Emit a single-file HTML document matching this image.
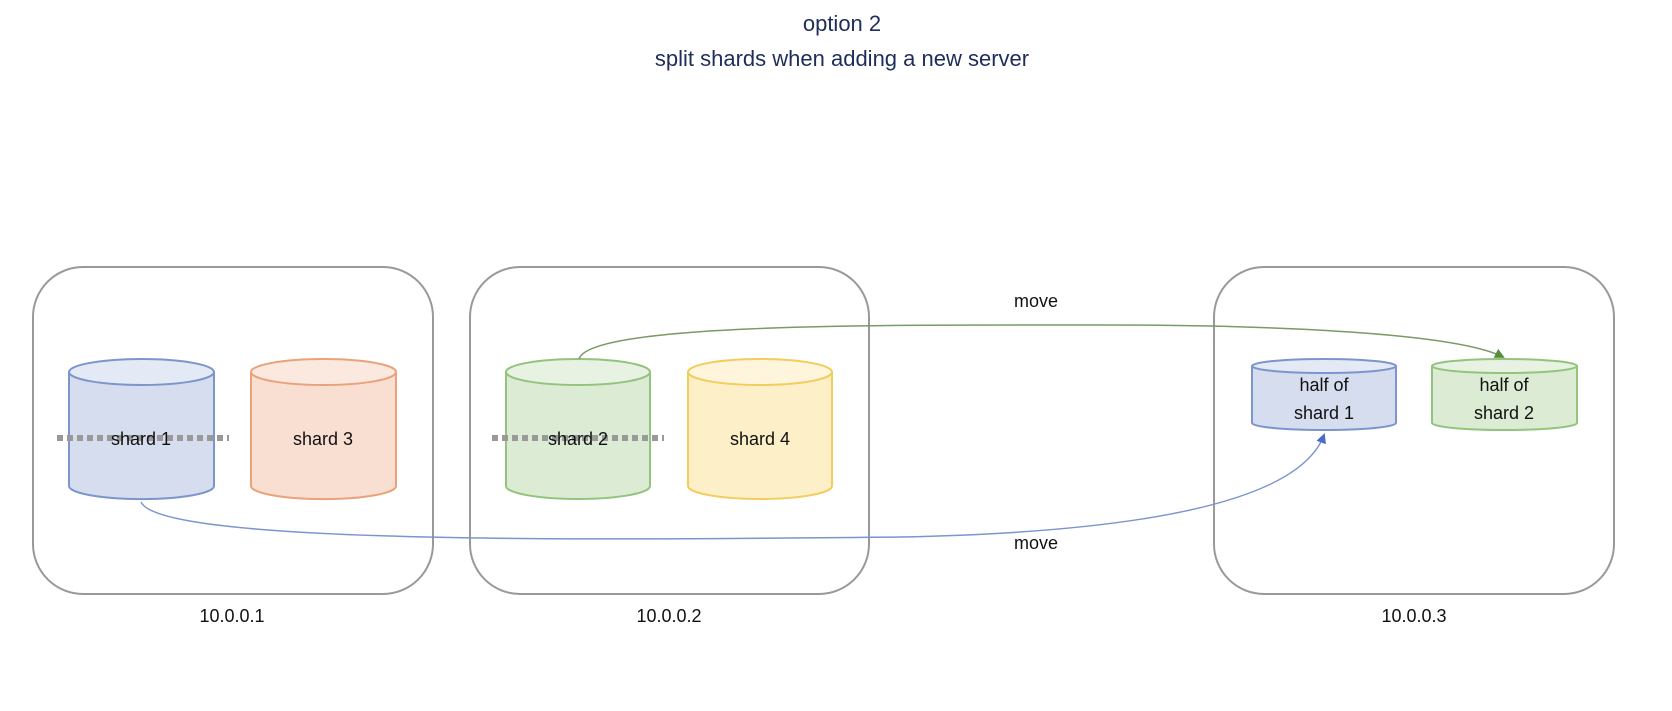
<!DOCTYPE html>
<html><head><style>
html,body{margin:0;padding:0;background:#fff;}
svg text{font-family:"Liberation Sans",sans-serif;}
</style></head><body>
<svg width="1672" height="706" viewBox="0 0 1672 706" xmlns="http://www.w3.org/2000/svg">
<defs>
<marker id="ag" markerWidth="10" markerHeight="10" refX="8" refY="5" orient="auto" markerUnits="userSpaceOnUse"><path d="M0,0 L10,5 L0,10 z" fill="#5a8a3c"/></marker>
<marker id="ab" markerWidth="10" markerHeight="10" refX="8" refY="5" orient="auto" markerUnits="userSpaceOnUse"><path d="M0,0 L10,5 L0,10 z" fill="#4a6cc4"/></marker>
</defs>
<text x="842" y="31" text-anchor="middle" font-size="22" fill="#1f2d5a">option 2</text>
<text x="842" y="66" text-anchor="middle" font-size="22" fill="#1f2d5a">split shards when adding a new server</text>

<g fill="none" stroke="#999" stroke-width="2">
<rect x="33" y="267" width="400" height="327" rx="50"/>
<rect x="470" y="267" width="399" height="327" rx="50"/>
<rect x="1214" y="267" width="400" height="327" rx="50"/>
</g>
<g font-size="18" fill="#111" text-anchor="middle">
<text x="232" y="622">10.0.0.1</text>
<text x="669" y="622">10.0.0.2</text>
<text x="1414" y="622">10.0.0.3</text>
</g>

<g stroke-width="2">
<path d="M69,372 L69,486 A72,13 0 0 0 214,486 L214,372" fill="#d5ddef" stroke="#7c95cc"/>
<ellipse cx="141.5" cy="372" rx="72.5" ry="13" fill="#e3e9f5" stroke="#7c95cc"/>
<path d="M251,372 L251,486 A72,13 0 0 0 396,486 L396,372" fill="#f8dfd2" stroke="#e9a27a"/>
<ellipse cx="323.5" cy="372" rx="72.5" ry="13" fill="#fbe9df" stroke="#e9a27a"/>
<path d="M506,372 L506,486 A72,13 0 0 0 650,486 L650,372" fill="#dcebd3" stroke="#93c47d"/>
<ellipse cx="578" cy="372" rx="72" ry="13" fill="#e8f2e2" stroke="#93c47d"/>
<path d="M688,372 L688,486 A72,13 0 0 0 832,486 L832,372" fill="#fdf0c8" stroke="#f2cc5c"/>
<ellipse cx="760" cy="372" rx="72" ry="13" fill="#fef5dc" stroke="#f2cc5c"/>
<path d="M1252,366 L1252,423 A72,7 0 0 0 1396,423 L1396,366" fill="#d5ddef" stroke="#7c95cc"/>
<ellipse cx="1324" cy="366" rx="72" ry="7" fill="#e3e9f5" stroke="#7c95cc"/>
<path d="M1432,366 L1432,423 A72,7 0 0 0 1577,423 L1577,366" fill="#dcebd3" stroke="#93c47d"/>
<ellipse cx="1504.5" cy="366" rx="72.5" ry="7" fill="#e8f2e2" stroke="#93c47d"/>
</g>

<g stroke="#999" stroke-width="6" stroke-dasharray="6 4">
<line x1="57" y1="438" x2="229" y2="438"/>
<line x1="492" y1="438" x2="664" y2="438"/>
</g>

<g font-size="18" fill="#111" text-anchor="middle">
<text x="141" y="445">shard 1</text>
<text x="323" y="445">shard 3</text>
<text x="578" y="445">shard 2</text>
<text x="760" y="445">shard 4</text>
<text x="1324" y="391">half of</text>
<text x="1324" y="419">shard 1</text>
<text x="1504" y="391">half of</text>
<text x="1504" y="419">shard 2</text>
<text x="1036" y="307">move</text>
<text x="1036" y="549">move</text>
</g>

<path d="M579,359 C590,322 900,325 1100,325 C1300,325 1460,335 1503,357" fill="none" stroke="#7a9a66" stroke-width="1.5" marker-end="url(#ag)"/>
<path d="M141,502 C160,545 600,540 900,537 C1150,532 1300,500 1324,435" fill="none" stroke="#7c95cc" stroke-width="1.5" marker-end="url(#ab)"/>
</svg>
</body></html>
